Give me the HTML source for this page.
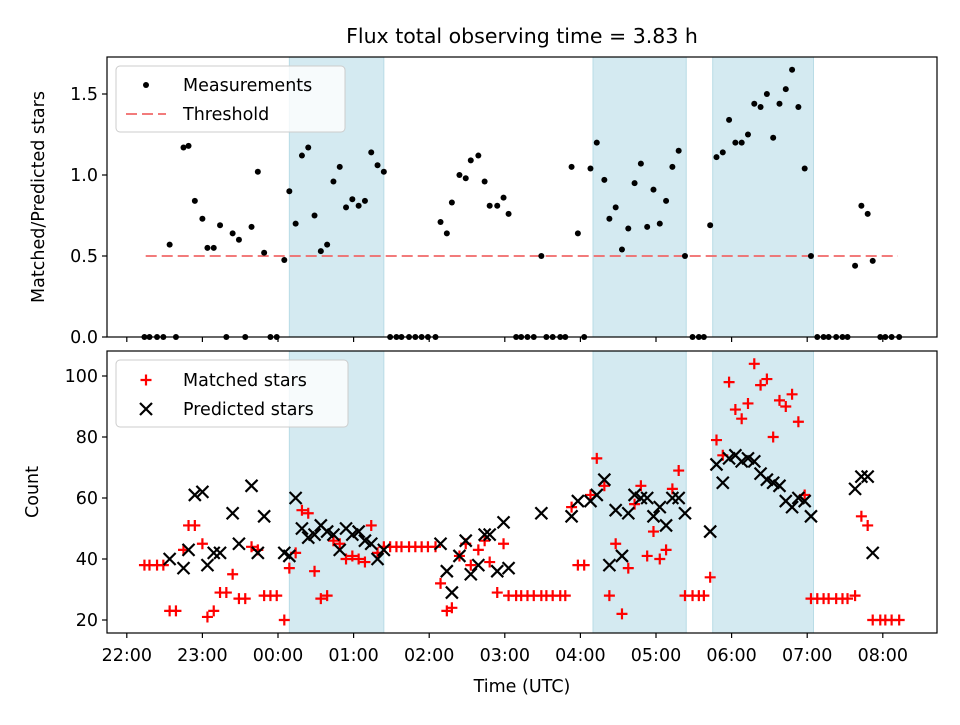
<!DOCTYPE html>
<html><head><meta charset="utf-8"><style>
body{margin:0;background:#fff;}
svg text{font-family:"DejaVu Sans","Liberation Sans",sans-serif;fill:#000;}
</style></head><body>
<svg id="fig" width="960" height="720" viewBox="0 0 960 720" xmlns="http://www.w3.org/2000/svg"></svg>
<script>
// minutes after 22:00 UTC
const times=[14,18,24,29,34,39,45,49,54,60,64,69,74,79,84,89,94,99,104,109,114,119,125,129,134,139,144,149,154,159,164,169,174,179,184,189,194,199,204,209,214,218,224,229,234,239,245,249,254,258,264,269,273,279,284,288,294,299,303,309,313,318,323,329,333,338,344,348,353,358,363,368,373,379,383,388,393,398,403,408,413,418,423,428,433,438,443,449,454,458,463,468,473,478,483,488,493,498,503,508,513,518,523,528,533,538,543,548,553,557,563,568,572,578,583,588,592,598,602,607,613];
const ratio=[0,0,0,0,0.57,0,1.17,1.18,0.84,0.73,0.55,0.55,0.69,0,0.64,0.60,0,0.68,1.02,0.52,0,0,0.475,0.90,0.70,1.12,1.17,0.75,0.53,0.57,0.96,1.05,0.80,0.85,0.81,0.84,1.14,1.06,1.02,0,0,0,0,0,0,0,0,0.71,0.64,0.83,1.00,0.98,1.09,1.12,0.96,0.81,0.81,0.86,0.76,0,0,0,0,0.50,0,0,0,0,1.05,0.64,0,1.04,1.20,0.97,0.73,0.80,0.54,0.67,0.95,1.07,0.68,0.91,0.70,0.84,1.05,1.15,0.50,0,0,0,0.69,1.11,1.14,1.34,1.20,1.20,1.25,1.44,1.42,1.50,1.23,1.44,1.53,1.65,1.42,1.04,0.50,0,0,0,0,0,0,0.44,0.81,0.76,0.47,0,0,0,0];
const matched=[38,38,38,38,23,23,43,51,51,45,21,23,29,29,35,27,27,44,43,28,28,28,20,37,42,56,55,36,27,28,46,45,40,41,40,39,51,42,44,44,44,44,44,44,44,44,44,32,23,24,41,45,38,43,46,39,29,45,28,28,28,28,28,28,28,28,28,28,57,38,38,61,73,64,28,45,22,37,58,64,41,49,40,43,63,69,28,28,28,28,34,79,74,98,89,86,91,104,97,99,80,92,90,94,85,61,27,27,27,27,27,27,27,28,54,51,20,20,20,20,20];
const predicted=[null,null,null,null,40,null,37,43,61,62,38,42,42,null,55,45,null,64,42,54,null,null,42,41,60,50,47,48,51,49,48,43,50,48,49,46,45,40,43,null,null,null,null,null,null,null,null,45,36,29,41,46,35,38,48,48,36,52,37,null,null,null,null,55,null,null,null,null,54,59,null,59,61,66,38,56,41,55,61,60,60,54,57,51,60,60,55,null,null,null,49,71,65,73,74,72,73,72,68,66,65,64,59,57,60,59,54,null,null,null,null,null,null,63,67,67,42,null,null,null,null];
const spans=[[129,204],[370,444],[465,545]];
const threshold=0.5, thrStart=15, thrEnd=612;
const xTickLabels=["22:00","23:00","00:00","01:00","02:00","03:00","04:00","05:00","06:00","07:00","08:00"];
const topTicks=[0,0.5,1.0,1.5];
const botTicks=[20,40,60,80,100];

const NS="http://www.w3.org/2000/svg";
const svg=document.getElementById('fig');
function mk(tag,attrs,parent){const e=document.createElementNS(NS,tag);for(const k in attrs)e.setAttribute(k,attrs[k]);(parent||svg).appendChild(e);return e;}
const L=107,R=937;
const X=t=>126.8+t/60*75.6;
const T={top:57,bot:337,y:v=>337-v*162};
const B={top:351,bot:633,y:v=>620-(v-20)*3.05};

[T,B].forEach((ax,ai)=>{
  spans.forEach((s,i)=>{
    const r=mk('rect',{x:X(s[0]),y:ax.top,width:X(s[1])-X(s[0]),height:ax.bot-ax.top,fill:'#d4eaf1',stroke:'#b9dce6','stroke-width':1});
    
    
  });
});
const th=mk('line',{x1:X(thrStart),x2:X(thrEnd),y1:T.y(threshold),y2:T.y(threshold),stroke:'rgba(240,100,100,0.85)','stroke-width':2,'stroke-dasharray':'11,5'});


times.forEach((t,i)=>{
  const c=mk('circle',{cx:X(t),cy:T.y(ratio[i]),r:3,fill:'#000'});
  
  
});
function plus(x,y){return mk('path',{d:`M${x-5.5},${y}H${x+5.5}M${x},${y-5.5}V${y+5.5}`,stroke:'#f00','stroke-width':2.2,fill:'none'});}
function cross(x,y){return mk('path',{d:`M${x-6},${y-6}L${x+6},${y+6}M${x-6},${y+6}L${x+6},${y-6}`,stroke:'#000','stroke-width':2.2,fill:'none'});}
times.forEach((t,i)=>{
  const p=plus(X(t),B.y(matched[i]));
  
  
});
times.forEach((t,i)=>{
  if(predicted[i]==null)return;
  const c=cross(X(t),B.y(predicted[i]));
  
  
});
[T,B].forEach((ax,ai)=>{
  const f=mk('rect',{x:L,y:ax.top,width:R-L,height:ax.bot-ax.top,fill:'none',stroke:'#000','stroke-width':1.2});
  
  
  xTickLabels.forEach((lab,i)=>{
    const x=X(i*60);
    mk('line',{x1:x,x2:x,y1:ax.bot,y2:ax.bot+5,stroke:'#000','stroke-width':1.2});
    if(ai){const tx=mk('text',{x:x,y:ax.bot+28,'text-anchor':'middle','font-size':17.5});tx.textContent=lab;
      
      }
  });
  const ticks=ai?botTicks:topTicks;
  ticks.forEach(v=>{
    const y=ax.y(v);
    mk('line',{x1:L-5,x2:L,y1:y,y2:y,stroke:'#000','stroke-width':1.2});
    const tx=mk('text',{x:L-9,y:y+6,'text-anchor':'end','font-size':17.5});
    tx.textContent=ai?String(v):v.toFixed(1);
    
    
  });
});
function txt(s,a,name){const t=mk('text',a);t.textContent=s;return t;}
txt('Flux total observing time = 3.83 h',{x:522,y:43,'text-anchor':'middle','font-size':20.5},'chart-title');
txt('Time (UTC)',{x:522,y:692,'text-anchor':'middle','font-size':17.5},'x-axis-title');
txt('Matched/Predicted stars',{x:0,y:0,'text-anchor':'middle','font-size':17.5,transform:'translate(44,197) rotate(-90)'},'top-y-axis-title');
txt('Count',{x:0,y:0,'text-anchor':'middle','font-size':17.5,transform:'translate(38,492) rotate(-90)'},'bottom-y-axis-title');
const lg1=mk('rect',{x:116,y:66,width:229,height:66,rx:4,fill:'rgba(255,255,255,0.8)',stroke:'#ccc','stroke-width':1});

mk('circle',{cx:146,cy:85,r:3,fill:'#000'});
txt('Measurements',{x:183,y:91,'font-size':17.5},'legend-measurements');
mk('line',{x1:126,x2:166,y1:114,y2:114,stroke:'rgba(240,100,100,0.85)','stroke-width':2,'stroke-dasharray':'11,5'});
txt('Threshold',{x:183,y:120,'font-size':17.5},'legend-threshold');
const lg2=mk('rect',{x:116,y:360,width:232,height:67,rx:4,fill:'rgba(255,255,255,0.8)',stroke:'#ccc','stroke-width':1});

plus(146,380);
txt('Matched stars',{x:183,y:386,'font-size':17.5},'legend-matched');
cross(146,409);
txt('Predicted stars',{x:183,y:415,'font-size':17.5},'legend-predicted');
</script>
</body></html>
